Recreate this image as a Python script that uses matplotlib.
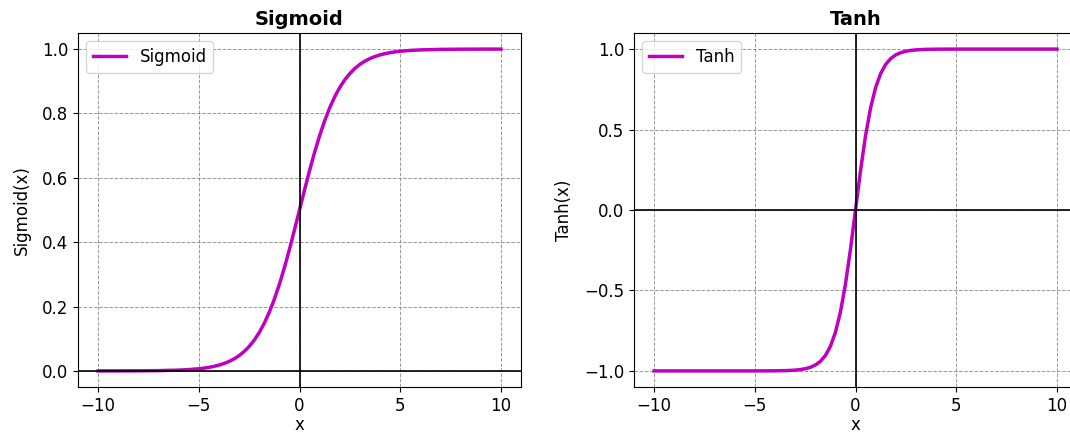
import numpy as np
import matplotlib.pyplot as plt

# Sample points
x = [-10, -9, -8, -7, -6, -5.5, -5, -4.75, -4.5, -4.25, -4, -3.75, -3.5, -3.25,
     -3, -2.75, -2.5, -2.25, -2, -1.75, -1.5, -1.25, -1, -0.75, -0.5, -0.25, 0,
     0.25, 0.5, 0.75, 1, 1.25, 1.5, 1.75, 2, 2.25, 2.5, 2.75, 3, 3.25, 3.5,
     3.75, 4, 4.25, 4.5, 4.75, 5, 5.5, 6, 7, 8, 9, 10]

sigmoid_y = [0.0000, 0.0001, 0.0003, 0.0009, 0.0025, 0.0041, 0.0067, 0.0086,
             0.0110, 0.0141, 0.0180, 0.0230, 0.0293, 0.0373, 0.0474, 0.0601,
             0.0759, 0.0953, 0.1192, 0.1480, 0.1824, 0.2227, 0.2689, 0.3208,
             0.3775, 0.4378, 0.5000, 0.5622, 0.6225, 0.6792, 0.7311, 0.7773,
             0.8176, 0.8520, 0.8808, 0.9047, 0.9241, 0.9399, 0.9526, 0.9627,
             0.9707, 0.9770, 0.9820, 0.9859, 0.9890, 0.9914, 0.9933, 0.9959,
             0.9975, 0.9991, 0.9997, 0.9999, 1.0000]

tanh_y = [-1.0000, -1.0000, -1.0000, -1.0000, -1.0000, -1.0000, -0.9999, -0.9998,
          -0.9998, -0.9996, -0.9993, -0.9989, -0.9982, -0.9970, -0.9951, -0.9919,
          -0.9866, -0.9780, -0.9640, -0.9414, -0.9051, -0.8483, -0.7616, -0.6351,
          -0.4621, -0.2449, 0.0000, 0.2449, 0.4621, 0.6351, 0.7616, 0.8483,
          0.9051, 0.9414, 0.9640, 0.9780, 0.9866, 0.9919, 0.9951, 0.9970,
          0.9982, 0.9989, 0.9993, 0.9996, 0.9998, 0.9998, 0.9999, 1.0000,
          1.0000, 1.0000, 1.0000, 1.0000, 1.0000]

x_ticks = [-10, -5, 0, 5, 10]
sigmoid_ticks = [0.0, 0.2, 0.4, 0.6, 0.8, 1.0]
tanh_ticks = [-1.0, -0.5, 0.0, 0.5, 1.0]

plt.rcParams['font.size'] = 12

fig = plt.figure(figsize=(10.7, 4.36), dpi=100)
ax1 = fig.add_axes([78 / 1070, 49 / 436, 443 / 1070, 354 / 436])
ax2 = fig.add_axes([634 / 1070, 49 / 436, 443 / 1070, 354 / 436])

panels = [(ax1, sigmoid_y, 'Sigmoid', sigmoid_ticks),
          (ax2, tanh_y, 'Tanh', tanh_ticks)]
for ax, y, name, yt in panels:
    ax.plot(x, y, color='m', linewidth=2.5, label=name)
    ax.axhline(0, color='black', linewidth=1.2)
    ax.axvline(0, color='black', linewidth=1.2)
    ax.grid(True, linestyle='--', color='gray', alpha=0.8, linewidth=0.7)
    ax.set_xticks(x_ticks)
    ax.set_yticks(yt)
    ax.set_title(name, fontsize=14, fontweight='bold')
    ax.set_xlabel('x', labelpad=1)
    ax.set_ylabel(f'{name}(x)', labelpad=8)
    ax.legend(loc='upper left')

plt.savefig('out.png')
